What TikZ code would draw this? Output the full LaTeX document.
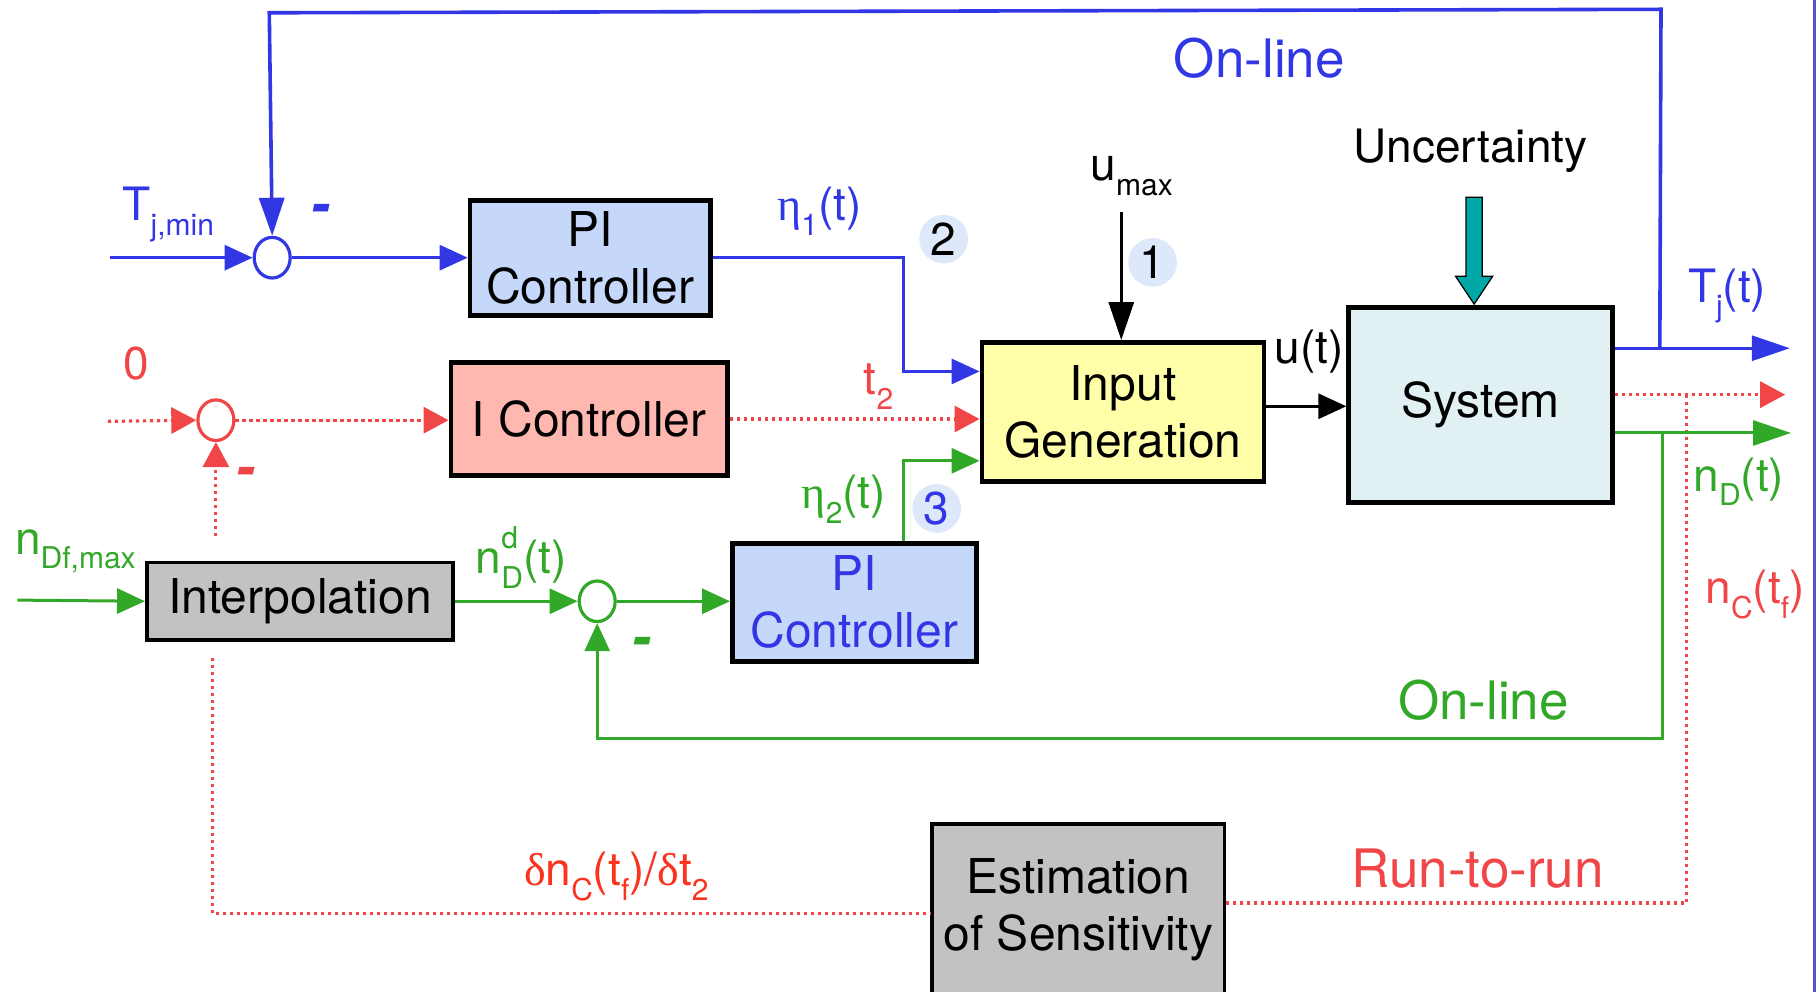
\documentclass[tikz,border=0pt]{standalone}
\usepackage{fontspec}
\setmainfont{TeX Gyre Heros}
\newfontfamily\greekfont{Liberation Serif}
\usetikzlibrary{arrows.meta,shapes.geometric,calc}

\definecolor{cblue}{RGB}{50,55,230}
\definecolor{cred}{RGB}{240,70,72}
\definecolor{corange}{RGB}{250,50,30}
\definecolor{cgreen}{RGB}{50,168,40}
\definecolor{cteal}{RGB}{0,168,168}
\definecolor{fpi}{RGB}{197,216,250}
\definecolor{fic}{RGB}{255,184,176}
\definecolor{fig}{RGB}{255,255,170}
\definecolor{fsys}{RGB}{224,240,243}
\definecolor{fgray}{RGB}{194,194,194}
\definecolor{fnum}{RGB}{221,232,250}
\definecolor{cedge}{RGB}{85,85,200}

% lowered index and raised index in the label font
\newcommand{\lo}[1]{\raisebox{-0.32em}{\fontsize{15}{15}\selectfont #1}}
\newcommand{\hi}[1]{\makebox[0pt][l]{\raisebox{0.55em}{\fontsize{15}{15}\selectfont #1}}}
\newcommand{\gr}[1]{{\greekfont #1}}

\begin{document}
\begin{tikzpicture}[x=0.5804pt,y=-0.5804pt,
  >={Triangle[length=14pt,width=12.5pt]},
  line width=1.5pt,
  longtip/.style={-{Triangle[length=19pt,width=12.5pt]}},
  box/.style={draw=black, line width=2.4pt, align=center,
    font=\fontsize{24}{28.5}\selectfont, inner sep=0pt},
  sz/.style 2 args={minimum width=#1*0.5804pt, minimum height=#2*0.5804pt},
  sum/.style={ellipse, draw, line width=1.6pt, fill=white,
    minimum width=31*0.5804pt, minimum height=35*0.5804pt, inner sep=0pt},
  dotline/.style={cred, line width=1.6pt, dash pattern=on 1.6pt off 1.9pt},
  dotarrow/.style={dotline, -{Triangle[length=12.5pt,width=13pt]}},
  num/.style={circle, fill=fnum, minimum size=42*0.5804pt, inner sep=0pt,
    font=\fontsize{23}{23}\selectfont},
  lbl/.style={inner sep=0pt, font=\fontsize{23}{27}\selectfont},
  biglbl/.style={inner sep=0pt, font=\fontsize{26.5}{30}\selectfont},
  minus/.style={inner sep=0pt, font=\fontsize{28}{28}\selectfont\bfseries\itshape}]

\useasboundingbox (0,0) rectangle (1568,854.6);

% ---------------- blocks ----------------
\node[box, fill=fpi, sz={207}{99}] (pi1) at (508.5,222) {PI\\Controller};
\node[box, fill=fic, sz={238}{97}] (ictl) at (507.5,361) {I Controller};
\node[box, fill=fig, sz={243}{120}] (igen) at (967.5,355) {Input\\Generation};
\node[box, fill=fsys, sz={227}{168}] (sys) at (1275.5,349) {System};
\node[box, fill=fgray, line width=1.8pt, sz={264}{67}] (interp) at (258.5,518) {Interpolation};
\node[box, fill=fpi, sz={210}{102}, text=cblue] (pi2) at (736,519) {PI\\Controller};
\node[box, fill=fgray, line width=1.8pt, sz={252}{148}] (est) at (929,784) {Estimation\\of Sensitivity};

% ---------------- summing junctions ----------------
\node[sum, draw=cblue] (s1) at (234.5,222) {};
\node[sum, draw=cred] (s2) at (186,362) {};
\node[sum, draw=cgreen] (s3) at (514.5,518) {};

% ---------------- free ends and corners ----------------
\coordinate (tjin) at (95,222);
\coordinate (tjout) at (1542,300);
\coordinate (tjbr) at (1430,300);
\coordinate (tr) at (1431,8);
\coordinate (tl) at (232,11);
\coordinate (zin) at (93,363);
\coordinate (ib) at (186,462);
\coordinate (ncout) at (1538,340);
\coordinate (ncbr) at (1453,340);
\coordinate (ncdn) at (1453,778);
\coordinate (ilow) at (183,567);
\coordinate (icorner) at (183,787);
\coordinate (ndin) at (15,517);
\coordinate (ndout) at (1543,373);
\coordinate (ndbr) at (1432,373);
\coordinate (ndlow) at (1432,636);
\coordinate (umax) at (966,183);

% ---------------- temperature loop (blue) ----------------
\draw[->, cblue] (tjin) -- (s1.west);
\draw[->, cblue] (s1.east) -- (pi1.west);
\draw[->, cblue] (pi1.east) -- ++(164,0) |- (igen.west |- 0,320);
\draw[longtip, cblue] (sys.east |- tjout) -- (tjout);
\draw[longtip, cblue, line width=1.8pt] (tjbr) -- (tr) -- (tl) -- (s1.north);

% ---------------- run-to-run loop (red, dotted) ----------------
\draw[dotarrow] (zin) -- (s2.west);
\draw[dotarrow] (s2.east) -- (ictl.west |- s2.east);
\draw[dotarrow] (ictl.east) -- (igen.west |- ictl.east);
\draw[dotarrow] (ib) -- (s2.south);
\draw[dotarrow] (sys.east |- ncout) -- (ncout);
\draw[dotline] (ncbr) -- (ncdn) -- (est.east |- ncdn);
\draw[dotline] (ilow) -- (icorner) -- (est.west |- icorner);

% ---------------- conversion loop (green) ----------------
\draw[->, cgreen] (ndin) -- (interp.west);
\draw[->, cgreen] (interp.east) -- (s3.west);
\draw[->, cgreen] (s3.east) -- (pi2.west |- s3.east);
\draw[->, cgreen] (pi2.north -| 778,0) |- (igen.west |- 0,397);
\draw[longtip, cgreen] (sys.east |- ndout) -- (ndout);
\draw[->, cgreen] (ndbr) -- (ndlow) -| (s3.south);

% ---------------- input path (black) ----------------
\draw[longtip] (umax) -- (igen.north -| umax);
\draw[->] (igen.east |- 0,350) -- (sys.west |- 0,350);

% disturbance arrow into the plant
\draw[fill=cteal, line width=0.6pt]
  (1263,170) -- (1277,170) -- (1277,238) -- (1286,238) -- (1270,262)
  -- (1254,238) -- (1263,238) -- cycle;

% right border rule
\draw[cedge, line width=1.4pt] (1563,0) -- (1563,855);

% ---------------- labels ----------------
\node[lbl, text=cblue] at (145,185) {T\lo{j,min}};
\node[minus, text=cblue] at (276,184) {-};
\node[lbl, text=cblue] at (706,182) {\gr{η}\lo{1}(t)};
\node[lbl] at (975,152) {u\lo{max}};
\node[num] at (813,206) {2};
\node[num] at (993,226) {1};
\node[lbl, text=cred] at (757,333) {t\lo{2}};
\node[lbl, text=cred] at (117,313) {0};
\node[minus, text=cred] at (212,411) {-};
\node[lbl] at (1128,303) {u(t)};
\node[lbl] at (1267,130) {Uncertainty};
\node[lbl, text=cblue] at (1488,255) {T\lo{j}(t)};
\node[biglbl, text=cblue] at (1085,50) {On-line};
\node[lbl, text=cgreen] at (65,475) {n\lo{Df,max}};
\node[lbl, text=cgreen] at (449,480) {n\hi{d}\lo{D}(t)};
\node[minus, text=cgreen] at (553,557) {-};
\node[lbl, text=cgreen] at (727,430) {\gr{η}\lo{2}(t)};
\node[num, text=cblue] at (807,438) {3};
\node[lbl, text=cgreen] at (1498,415) {n\lo{D}(t)};
\node[lbl, text=cred] at (1512,512) {n\lo{C}(t\lo{f})};
\node[biglbl, text=cgreen] at (1278,603) {On-line};
\node[biglbl, text=cred] at (1273,748) {Run-to-run};
\node[lbl, text=corange] at (531,755) {\gr{δ}n\lo{C}(t\lo{f})/\gr{δ}t\lo{2}};

\end{tikzpicture}
\end{document}
